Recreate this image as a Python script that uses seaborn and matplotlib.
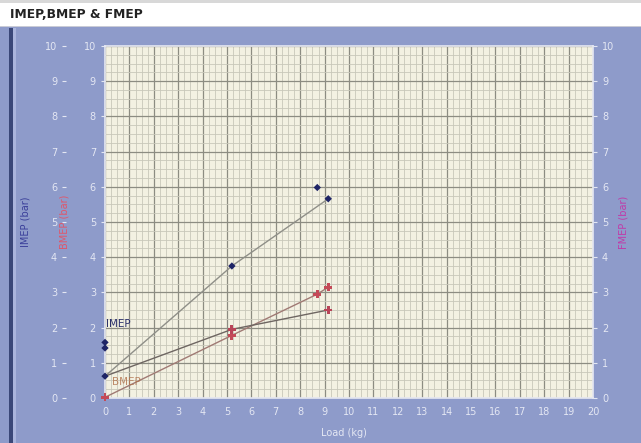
import matplotlib
matplotlib.use("Agg")
import matplotlib.pyplot as plt
import seaborn as sns
import pandas as pd
from matplotlib.patches import Rectangle
from matplotlib.ticker import MultipleLocator

sns.set_theme(style="white")
plt.rcParams['font.family'] = ['DejaVu Sans']

# ---- data ----
imep_load = [0.0, 5.2, 9.15]
imep_vals = [0.62, 3.75, 5.66]
imep_extra_load = [8.7, 0.0, 0.0]
imep_extra_vals = [5.98, 1.58, 1.42]

bmep_load = [0.0, 5.2, 8.7, 9.15]
bmep_vals = [0.02, 1.78, 2.95, 3.15]

fmep_load = [0.0, 5.2, 9.15]
fmep_vals = [0.62, 1.95, 2.5]

x_ticks = list(range(0, 21))
y_ticks = list(range(0, 11))

W, H = 641, 443
fig = plt.figure(figsize=(W / 100, H / 100), dpi=100)
fig.patch.set_facecolor("white")

# panel decorations
fig.add_artist(Rectangle((0, 0), 1, (H - 27) / H, transform=fig.transFigure,
                         facecolor="#8e9bca", edgecolor="none", zorder=-10))
fig.add_artist(Rectangle((0, (H - 27) / H), 1, 1 / H, transform=fig.transFigure,
                         facecolor="#c9cbd6", edgecolor="none", zorder=-9))
fig.add_artist(Rectangle((0, 1 - 3 / H), 1, 3 / H, transform=fig.transFigure,
                         facecolor="#d8d8d8", edgecolor="none", zorder=-9))
fig.add_artist(Rectangle((9 / W, 0), 4 / W, (H - 28) / H, transform=fig.transFigure,
                         facecolor="#3a4778", edgecolor="none", zorder=-8))
fig.add_artist(Rectangle((13 / W, 0), 3 / W, (H - 28) / H, transform=fig.transFigure,
                         facecolor="#aab4dc", edgecolor="none", zorder=-8))
fig.text(10 / W, 1 - 15 / H, "IMEP,BMEP & FMEP", fontsize=8.8, fontweight="bold",
         color="#222222", ha="left", va="center")

left, right, top, bottom = 105, 593, 46, 398
ax = fig.add_axes([left / W, 1 - bottom / H, (right - left) / W, (bottom - top) / H])
ax.set_facecolor("#f3f1e2")
ax.set_xlim(0, 20)
ax.set_ylim(0, 10)
ax.xaxis.set_major_locator(MultipleLocator(1))
ax.xaxis.set_minor_locator(MultipleLocator(0.25))
ax.yaxis.set_major_locator(MultipleLocator(1))
ax.yaxis.set_minor_locator(MultipleLocator(0.25))
ax.grid(which="major", color="#8c8c82", linewidth=0.9)
ax.grid(which="minor", color="#c9c8ba", linewidth=0.6)
ax.set_axisbelow(True)
for s in ax.spines.values():
    s.set_color("#e6e8f2")
    s.set_linewidth(1.2)

tick_col = "#e4e7f3"
ax.tick_params(axis="both", which="major", colors=tick_col, labelcolor=tick_col,
               labelsize=7, length=3, width=0.8, direction="out")
ax.tick_params(axis="both", which="minor", length=0)
ax.set_xticks(x_ticks)
ax.set_yticks(y_ticks)
ax.set_ylabel("BMEP (bar)", color="#e0566a", fontsize=7, labelpad=10)

# outer left axis: IMEP
ax_i = ax.twinx()
ax_i.yaxis.tick_left()
ax_i.yaxis.set_label_position("left")
ax_i.spines["left"].set_position(("outward", 28))
for s in ax_i.spines.values():
    s.set_visible(False)
ax_i.set_ylim(0, 10)
ax_i.set_yticks(y_ticks)
ax_i.tick_params(axis="y", colors=tick_col, labelcolor=tick_col, labelsize=7,
                 length=3, width=0.8)
ax_i.set_ylabel("IMEP (bar)", color="#3a3f9a", fontsize=7, labelpad=10)
ax_i.grid(False)

# right axis: FMEP
ax_f = ax.twinx()
for s in ax_f.spines.values():
    s.set_visible(False)
ax_f.set_ylim(0, 10)
ax_f.set_yticks(y_ticks)
ax_f.tick_params(axis="y", colors=tick_col, labelcolor=tick_col, labelsize=7,
                 length=3, width=0.8)
ax_f.set_ylabel("FMEP (bar)", color="#c03aa8", fontsize=7, labelpad=3)
ax_f.grid(False)

# data
df_i = pd.DataFrame({"Load": imep_load, "IMEP": imep_vals})
df_b = pd.DataFrame({"Load": bmep_load, "BMEP": bmep_vals})
df_f = pd.DataFrame({"Load": fmep_load, "FMEP": fmep_vals})
df_ix = pd.DataFrame({"Load": imep_extra_load, "IMEP": imep_extra_vals})

sns.lineplot(data=df_i, x="Load", y="IMEP", ax=ax, color="#8f8f88", linewidth=1.0,
             sort=False, zorder=3)
sns.lineplot(data=df_b, x="Load", y="BMEP", ax=ax, color="#a07a74", linewidth=1.0,
             sort=False, zorder=3)
sns.lineplot(data=df_f, x="Load", y="FMEP", ax=ax, color="#6e6662", linewidth=1.0,
             sort=False, zorder=3)
sns.scatterplot(data=df_i, x="Load", y="IMEP", ax=ax, color="#1e2466", marker="D",
                s=14, edgecolor="none", zorder=5, clip_on=False)
sns.scatterplot(data=df_ix, x="Load", y="IMEP", ax=ax, color="#1e2466", marker="D",
                s=14, edgecolor="none", zorder=5, clip_on=False)
sns.scatterplot(data=df_b, x="Load", y="BMEP", ax=ax, color="#c44a58", marker="P",
                s=36, edgecolor="none", zorder=5, clip_on=False)
sns.scatterplot(data=df_f.iloc[1:], x="Load", y="FMEP", ax=ax, color="#b84458", marker="P",
                s=36, edgecolor="none", zorder=5, clip_on=False)

ax.text(0.03, 2.1, "IMEP", color="#2a2f6a", fontsize=7.5, ha="left", va="center", zorder=6)
ax.text(0.3, 0.45, "BMEP", color="#b0704a", fontsize=7.5, ha="left", va="center",
        alpha=0.8, zorder=6)

ax.set_xlabel("Load (kg)", color=tick_col, fontsize=7)
ax.xaxis.set_label_coords(0.49, -0.085)

fig.savefig("out.png", dpi=100, facecolor=fig.get_facecolor())
